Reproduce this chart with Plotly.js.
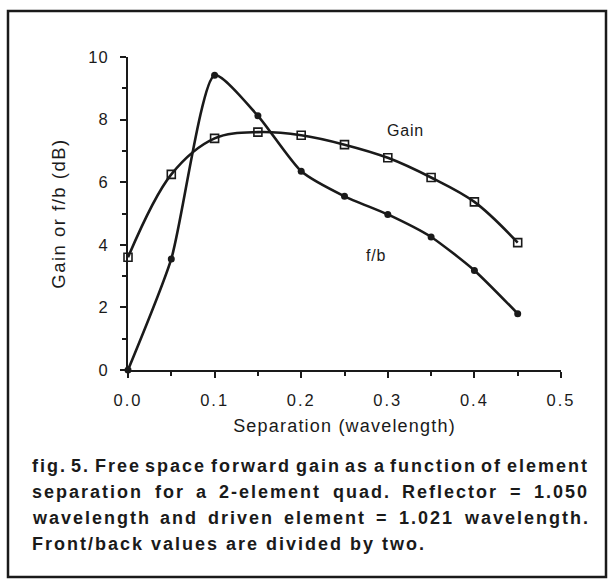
<!DOCTYPE html>
<html>
<head>
<meta charset="utf-8">
<script src="https://cdn.plot.ly/plotly-3.0.1.min.js"></script>
<style>
html,body{margin:0;padding:0;background:#fff;}
#chart{width:610px;height:580px;}
</style>
</head>
<body>
<div id="chart"></div>
<script>
// Data
const separation = [0.0, 0.05, 0.10, 0.15, 0.20, 0.25, 0.30, 0.35, 0.40, 0.45];
const gainDb     = [3.6, 6.25, 7.4, 7.6, 7.5, 7.2, 6.78, 6.15, 5.37, 4.07];
const fbDb       = [0.0, 3.55, 9.42, 8.12, 6.35, 5.55, 4.97, 4.25, 3.18, 1.8];
const xTickVals  = [0, 0.1, 0.2, 0.3, 0.4, 0.5];
const xTickText  = ["0.0", "0.1", "0.2", "0.3", "0.4", "0.5"];
const yTickVals  = [0, 2, 4, 6, 8, 10];
const yTickText  = ["0", "2", "4", "6", "8", "10"];
const captionLines = [
  "fig. 5. Free space forward gain as a function of element",
  "separation for a 2-element quad. Reflector = 1.050",
  "wavelength and driven element = 1.021 wavelength.",
  "Front/back values are divided by two."
];

const font = "Liberation Sans, Arial, Helvetica, sans-serif";
const ink = "#1a1a1a";
const spaced = (t, ls) => '<span style="letter-spacing:' + ls + 'px">' + t + '</span>';

const traces = [
  {
    x: separation, y: gainDb, name: "Gain", type: "scatter", mode: "lines+markers",
    line: {color: ink, width: 2.6, shape: "spline", smoothing: 1},
    marker: {symbol: "square-open", size: 8, color: ink, line: {width: 1.6, color: ink}},
    cliponaxis: false
  },
  {
    x: separation, y: fbDb, name: "f/b", type: "scatter", mode: "lines+markers",
    line: {color: ink, width: 2.6, shape: "spline", smoothing: 0.6},
    marker: {symbol: "circle", size: 7, color: ink},
    cliponaxis: false
  }
];

// plot area: left 128, right 561, top 57, bottom 370
const L = 128, R = 49, T = 57, B = 210;
const W = 610 - L - R, H = 580 - T - B;
const px = v => (v - L) / W;
const py = v => (580 - B - v) / H;

const annotations = [
  {x: 0.32, y: 7.65, xref: "x", yref: "y", text: spaced("Gain", 0.8), showarrow: false,
   font: {family: font, size: 16, color: ink}},
  {x: 0.286, y: 3.66, xref: "x", yref: "y", text: spaced("f/b", 0.8), showarrow: false,
   font: {family: font, size: 16, color: ink}}
];

// Caption: justified lines (last line left-aligned), word positions from canvas text metrics
const capSize = 18, capLS = 2;
const ctx = document.createElement("canvas").getContext("2d");
ctx.font = "bold " + capSize + "px 'Liberation Sans', Arial, sans-serif";
const measure = w => ctx.measureText(w).width + w.length * capLS;
const capLeft = 32, capRight = 589;
const lineY = [466, 492, 518, 544];
captionLines.forEach((t, i) => {
  const words = t.split(" ");
  const widths = words.map(measure);
  const total = widths.reduce((a, b) => a + b, 0);
  const justify = i < captionLines.length - 1;
  const gap = justify ? (capRight - capLeft - total) / (words.length - 1)
                      : ctx.measureText(" ").width + capLS;
  let xPos = capLeft;
  words.forEach((w, k) => {
    annotations.push({
      x: px(xPos), y: py(lineY[i]), xref: "paper", yref: "paper",
      xanchor: "left", yanchor: "middle", text: spaced(w, capLS), showarrow: false,
      borderpad: 0, borderwidth: 0,
      font: {family: font, size: capSize, color: ink, weight: "bold"}
    });
    xPos += widths[k] + gap;
  });
});

const layout = {
  width: 610, height: 580,
  margin: {l: L, r: R, t: T, b: B, pad: 0},
  paper_bgcolor: "#fff", plot_bgcolor: "#fff",
  showlegend: false,
  font: {family: font, color: ink},
  xaxis: {
    range: [0, 0.5], showgrid: false, zeroline: false,
    showline: true, linecolor: ink, linewidth: 2,
    ticks: "outside", ticklen: 6, tickwidth: 2, tickcolor: ink,
    tickvals: xTickVals, ticktext: xTickText.map(t => spaced(t, 2)),
    ticklabelstandoff: 8,
    minor: {dtick: 0.05, ticks: "outside", ticklen: 4, tickwidth: 2, tickcolor: ink, showgrid: false},
    tickfont: {family: font, size: 16.5, color: ink},
    title: {text: spaced("Separation (wavelength)", 1.2), font: {family: font, size: 18, color: ink}, standoff: 12}
  },
  yaxis: {
    range: [0, 10], showgrid: false, zeroline: false,
    showline: true, linecolor: ink, linewidth: 2,
    ticks: "outside", ticklen: 6, tickwidth: 2, tickcolor: ink,
    tickvals: yTickVals, ticktext: yTickText.map(t => spaced(t, 1)),
    ticklabelstandoff: 8,
    minor: {dtick: 1, ticks: "outside", ticklen: 4, tickwidth: 2, tickcolor: ink, showgrid: false},
    tickfont: {family: font, size: 16.5, color: ink},
    title: {text: spaced("Gain or f/b (dB)", 1.5), font: {family: font, size: 18.5, color: ink}, standoff: 18}
  },
  annotations: annotations,
  shapes: [
    {type: "rect", xref: "paper", yref: "paper",
     x0: px(8), x1: px(606), y0: py(577), y1: py(11),
     line: {color: ink, width: 2.5}, fillcolor: "rgba(0,0,0,0)", layer: "below"}
  ]
};

Plotly.newPlot("chart", traces, layout, {displayModeBar: false, staticPlot: true});
</script>
</body>
</html>
